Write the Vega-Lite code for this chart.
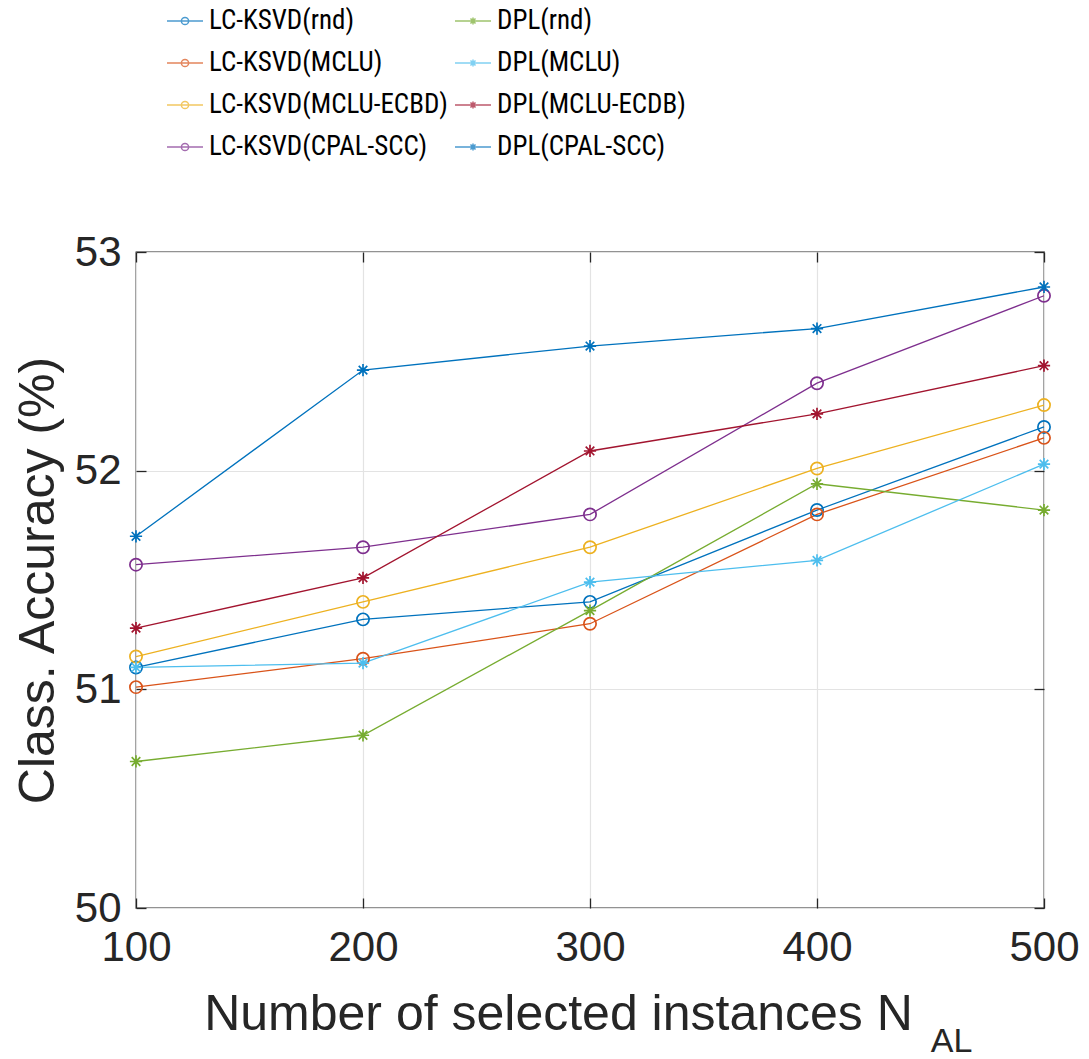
{
  "$schema": "https://vega.github.io/schema/vega-lite/v6.json",
  "width": 908,
  "height": 656,
  "autosize": {"type": "none"},
  "padding": {"left": 136, "top": 252, "right": 45, "bottom": 151},
  "background": "white",
  "config": {
    "font": "Liberation Sans",
    "view": {"stroke": "#262626", "strokeWidth": 1.3},
    "axis": {"labelColor": "#262626", "titleColor": "#262626", "domainColor": "#262626", "tickColor": "#262626", "gridColor": "#e3e3e3", "gridWidth": 1.2, "labelFontWeight": "normal", "titleFontWeight": "normal", "labelFlush": false}
  },
  "data": {"values": [
    {"series": "LC-KSVD(rnd)", "n": 100, "acc": 51.10},
    {"series": "LC-KSVD(rnd)", "n": 200, "acc": 51.32},
    {"series": "LC-KSVD(rnd)", "n": 300, "acc": 51.40},
    {"series": "LC-KSVD(rnd)", "n": 400, "acc": 51.82},
    {"series": "LC-KSVD(rnd)", "n": 500, "acc": 52.20},
    {"series": "LC-KSVD(MCLU)", "n": 100, "acc": 51.01},
    {"series": "LC-KSVD(MCLU)", "n": 200, "acc": 51.14},
    {"series": "LC-KSVD(MCLU)", "n": 300, "acc": 51.30},
    {"series": "LC-KSVD(MCLU)", "n": 400, "acc": 51.80},
    {"series": "LC-KSVD(MCLU)", "n": 500, "acc": 52.15},
    {"series": "LC-KSVD(MCLU-ECBD)", "n": 100, "acc": 51.15},
    {"series": "LC-KSVD(MCLU-ECBD)", "n": 200, "acc": 51.40},
    {"series": "LC-KSVD(MCLU-ECBD)", "n": 300, "acc": 51.65},
    {"series": "LC-KSVD(MCLU-ECBD)", "n": 400, "acc": 52.01},
    {"series": "LC-KSVD(MCLU-ECBD)", "n": 500, "acc": 52.30},
    {"series": "LC-KSVD(CPAL-SCC)", "n": 100, "acc": 51.57},
    {"series": "LC-KSVD(CPAL-SCC)", "n": 200, "acc": 51.65},
    {"series": "LC-KSVD(CPAL-SCC)", "n": 300, "acc": 51.80},
    {"series": "LC-KSVD(CPAL-SCC)", "n": 400, "acc": 52.40},
    {"series": "LC-KSVD(CPAL-SCC)", "n": 500, "acc": 52.80},
    {"series": "DPL(rnd)", "n": 100, "acc": 50.67},
    {"series": "DPL(rnd)", "n": 200, "acc": 50.79},
    {"series": "DPL(rnd)", "n": 300, "acc": 51.36},
    {"series": "DPL(rnd)", "n": 400, "acc": 51.94},
    {"series": "DPL(rnd)", "n": 500, "acc": 51.82},
    {"series": "DPL(MCLU)", "n": 100, "acc": 51.10},
    {"series": "DPL(MCLU)", "n": 200, "acc": 51.12},
    {"series": "DPL(MCLU)", "n": 300, "acc": 51.49},
    {"series": "DPL(MCLU)", "n": 400, "acc": 51.59},
    {"series": "DPL(MCLU)", "n": 500, "acc": 52.03},
    {"series": "DPL(MCLU-ECDB)", "n": 100, "acc": 51.28},
    {"series": "DPL(MCLU-ECDB)", "n": 200, "acc": 51.51},
    {"series": "DPL(MCLU-ECDB)", "n": 300, "acc": 52.09},
    {"series": "DPL(MCLU-ECDB)", "n": 400, "acc": 52.26},
    {"series": "DPL(MCLU-ECDB)", "n": 500, "acc": 52.48},
    {"series": "DPL(CPAL-SCC)", "n": 100, "acc": 51.70},
    {"series": "DPL(CPAL-SCC)", "n": 200, "acc": 52.46},
    {"series": "DPL(CPAL-SCC)", "n": 300, "acc": 52.57},
    {"series": "DPL(CPAL-SCC)", "n": 400, "acc": 52.65},
    {"series": "DPL(CPAL-SCC)", "n": 500, "acc": 52.84}
  ]},
  "resolve": {"scale": {"color": "independent", "shape": "independent"}, "axis": {"x": "independent", "y": "independent"}},
  "layer": [
    {
      "mark": {"type": "line", "strokeWidth": 1.3},
      "encoding": {
        "x": {"field": "n", "type": "quantitative", "scale": {"domain": [100, 500], "nice": false, "zero": false},
              "axis": {"values": [100, 200, 300, 400, 500], "format": "d", "labelFontSize": 42, "labelPadding": 29, "ticks": true, "tickSize": -10, "tickWidth": 1.3, "domain": false, "grid": true,
                       "title": "Number of selected instances N", "titleFontSize": 50, "titleAlign": "center", "titleAnchor": null, "titleX": 422, "titleY": 121, "titleBaseline": "alphabetic"}},
        "y": {"field": "acc", "type": "quantitative", "scale": {"domain": [50, 53], "nice": false, "zero": false},
              "axis": {"values": [50, 51, 52, 53], "format": "d", "labelFontSize": 42, "labelPadding": 25, "ticks": true, "tickSize": -10, "tickWidth": 1.3, "domain": false, "grid": true,
                       "title": "Class. Accuracy (%)", "titleFontSize": 50, "titleX": -83, "titleBaseline": "alphabetic"}},
        "color": {"field": "series", "type": "nominal", "legend": null,
                  "scale": {"domain": ["LC-KSVD(rnd)", "LC-KSVD(MCLU)", "LC-KSVD(MCLU-ECBD)", "LC-KSVD(CPAL-SCC)", "DPL(rnd)", "DPL(MCLU)", "DPL(MCLU-ECDB)", "DPL(CPAL-SCC)"],
                            "range": ["#0072BD", "#D95319", "#EDB120", "#7E2F8E", "#77AC30", "#4DBEEE", "#A2142F", "#0072BD"]}}
      }
    },
    {
      "mark": {"type": "point", "filled": false, "strokeWidth": 1.7, "size": 150, "opacity": 1},
      "encoding": {
        "x": {"field": "n", "type": "quantitative",
              "axis": {"orient": "top", "values": [100, 200, 300, 400, 500], "labels": false, "ticks": true, "tickSize": -10, "tickWidth": 1.3, "domain": false, "grid": false, "title": null}},
        "y": {"field": "acc", "type": "quantitative",
              "axis": {"orient": "right", "values": [50, 51, 52, 53], "labels": false, "ticks": true, "tickSize": -10, "tickWidth": 1.3, "domain": false, "grid": false, "title": null}},
        "color": {"field": "series", "type": "nominal", "legend": null,
                  "scale": {"domain": ["LC-KSVD(rnd)", "LC-KSVD(MCLU)", "LC-KSVD(MCLU-ECBD)", "LC-KSVD(CPAL-SCC)", "DPL(rnd)", "DPL(MCLU)", "DPL(MCLU-ECDB)", "DPL(CPAL-SCC)"],
                            "range": ["#0072BD", "#D95319", "#EDB120", "#7E2F8E", "#77AC30", "#4DBEEE", "#A2142F", "#0072BD"]}},
        "shape": {"field": "series", "type": "nominal", "legend": null,
                  "scale": {"domain": ["LC-KSVD(rnd)", "LC-KSVD(MCLU)", "LC-KSVD(MCLU-ECBD)", "LC-KSVD(CPAL-SCC)", "DPL(rnd)", "DPL(MCLU)", "DPL(MCLU-ECDB)", "DPL(CPAL-SCC)"],
                            "range": ["circle", "circle", "circle", "circle",
                                      "M-1,0L1,0M0,-1L0,1M-0.7,-0.7L0.7,0.7M-0.7,0.7L0.7,-0.7",
                                      "M-1,0L1,0M0,-1L0,1M-0.7,-0.7L0.7,0.7M-0.7,0.7L0.7,-0.7",
                                      "M-1,0L1,0M0,-1L0,1M-0.7,-0.7L0.7,0.7M-0.7,0.7L0.7,-0.7",
                                      "M-1,0L1,0M0,-1L0,1M-0.7,-0.7L0.7,0.7M-0.7,0.7L0.7,-0.7"]}}
      }
    },
    {
      "transform": [{"filter": "false"}],
      "mark": {"type": "point", "filled": false, "strokeWidth": 1.5},
      "encoding": {
        "x": {"field": "n", "type": "quantitative",
              "axis": {"orient": "bottom", "labels": false, "ticks": false, "domain": false, "grid": false, "title": "AL", "titleFontSize": 34, "titleAlign": "center", "titleAnchor": null, "titleX": 815, "titleY": 143, "titleBaseline": "alphabetic"}},
        "y": {"field": "acc", "type": "quantitative", "axis": null},
        "color": {"field": "series", "type": "nominal",
                  "scale": {"domain": ["LC-KSVD(rnd)", "LC-KSVD(MCLU)", "LC-KSVD(MCLU-ECBD)", "LC-KSVD(CPAL-SCC)", "DPL(rnd)", "DPL(MCLU)", "DPL(MCLU-ECDB)", "DPL(CPAL-SCC)"],
                            "range": ["#0072BD", "#D95319", "#EDB120", "#7E2F8E", "#77AC30", "#4DBEEE", "#A2142F", "#0072BD"]},
                  "legend": {"title": null, "orient": "none", "legendX": 30, "legendY": -250, "columns": 2, "padding": 0,
                             "labelFont": "Roboto Condensed, DejaVu Sans Condensed, Liberation Sans", "labelFontSize": 27, "labelColor": "#000000", "labelLimit": 500,
                             "symbolSize": 1296, "symbolStrokeWidth": 1.5, "labelOffset": 5, "rowPadding": 10, "columnPadding": 4}},
        "shape": {"field": "series", "type": "nominal",
                  "scale": {"domain": ["LC-KSVD(rnd)", "LC-KSVD(MCLU)", "LC-KSVD(MCLU-ECBD)", "LC-KSVD(CPAL-SCC)", "DPL(rnd)", "DPL(MCLU)", "DPL(MCLU-ECDB)", "DPL(CPAL-SCC)"],
                            "range": ["M-1,0L1,0M0.2,0A0.2,0.2 0 1,1 -0.2,0A0.2,0.2 0 1,1 0.2,0",
                                      "M-1,0L1,0M0.2,0A0.2,0.2 0 1,1 -0.2,0A0.2,0.2 0 1,1 0.2,0",
                                      "M-1,0L1,0M0.2,0A0.2,0.2 0 1,1 -0.2,0A0.2,0.2 0 1,1 0.2,0",
                                      "M-1,0L1,0M0.2,0A0.2,0.2 0 1,1 -0.2,0A0.2,0.2 0 1,1 0.2,0",
                                      "M-1,0L1,0M0,-0.2L0,0.2M-0.14,-0.14L0.14,0.14M-0.14,0.14L0.14,-0.14",
                                      "M-1,0L1,0M0,-0.2L0,0.2M-0.14,-0.14L0.14,0.14M-0.14,0.14L0.14,-0.14",
                                      "M-1,0L1,0M0,-0.2L0,0.2M-0.14,-0.14L0.14,0.14M-0.14,0.14L0.14,-0.14",
                                      "M-1,0L1,0M0,-0.2L0,0.2M-0.14,-0.14L0.14,0.14M-0.14,0.14L0.14,-0.14"]},
                  "legend": {"title": null, "orient": "none", "legendX": 30, "legendY": -250, "columns": 2, "padding": 0,
                             "labelFont": "Roboto Condensed, DejaVu Sans Condensed, Liberation Sans", "labelFontSize": 27, "labelColor": "#000000", "labelLimit": 500,
                             "symbolSize": 1296, "symbolStrokeWidth": 1.5, "labelOffset": 5, "rowPadding": 10, "columnPadding": 4}}
      }
    }
  ]
}
